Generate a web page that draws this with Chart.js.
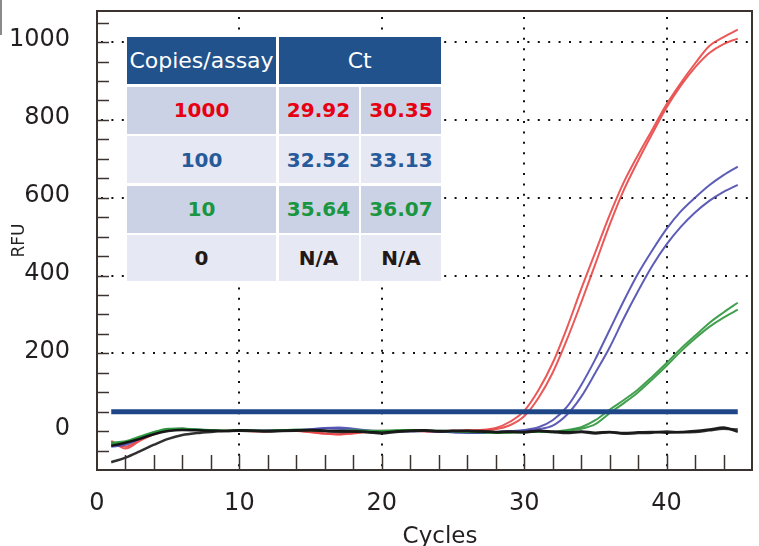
<!DOCTYPE html>
<html>
<head>
<meta charset="utf-8">
<script src="https://cdn.jsdelivr.net/npm/chart.js@4.4.0/dist/chart.umd.min.js"></script>
<style>
  body { margin: 0; background: #fff; }
  #wrap { position: relative; width: 759px; height: 546px; font-family: "DejaVu Sans", sans-serif; }
  #myChart { position: absolute; left: 0; top: 0; }
  .edge { position: absolute; left: 0; top: 0; width: 2px; height: 35px; background: #8a8a8a; }
  .xtitle { position: absolute; left: 440px; top: 522px; transform: translateX(-50%);
            font-size: 23px; line-height: 26px; color: #231f20; }
  .ctTable { position: absolute; left: 127px; top: 37px; display: grid;
             grid-template-columns: 149px 80px 80px;
             grid-template-rows: 47px 47px 47px 47px 46px;
             gap: 2.5px 2.5px; background: #fff; }
  .ctTable div { display: flex; align-items: center; justify-content: center;
                 font-size: 20px; font-weight: bold; }
  .ctTable .head { background: #21528b; color: #fff; font-weight: normal; font-size: 22px; }
  .ctTable .span2 { grid-column: span 2; }
  .ctTable .dark { background: #cbd2e5; }
  .ctTable .light { background: #e6e9f3; }
</style>
</head>
<body>
<div id="wrap">
  <canvas id="myChart" width="759" height="546"></canvas>
  <div class="edge"></div>
  <div class="xtitle">Cycles</div>
  <div class="ctTable"></div>
</div>
<script>
const $ = (element) => document.querySelector(element);

// ---- data ----
const cycles = [1, 2, 3, 4, 5, 6, 7, 8, 9, 10, 11, 12, 13, 14, 15, 16, 17, 18, 19, 20, 21, 22, 23,
  24, 25, 26, 27, 28, 29, 30, 31, 32, 33, 34, 35, 36, 37, 38, 39, 40, 41, 42, 43, 44, 45];

const red1 = [-25, -45, -25, -8, 3, 5, 3, 1, 0, 2, 0, -1, 1, 0, -2, -6, -8, -5, -1, 1, 0, 2, 0,
  -2, 0, 2, 3, 8, 24, 52, 105, 175, 265, 365, 460, 555, 640, 710, 775, 840, 895, 945, 990, 1013, 1032];
const red2 = [-30, -40, -22, -6, 4, 6, 3, 2, 1, 1, -1, 0, 2, 1, -3, -7, -9, -6, -2, 0, 1, 1, -1,
  -1, 1, 1, 2, 5, 15, 38, 85, 150, 235, 330, 430, 530, 620, 695, 765, 832, 888, 935, 972, 995, 1009];
const blue1 = [-35, -30, -18, -4, 5, 6, 4, 2, 0, 1, 1, 2, 3, 2, 4, 8, 9, 6, 2, 0, -1, 0, 1,
  -1, -3, -4, -5, -2, 0, 3, 10, 28, 62, 118, 185, 260, 335, 405, 465, 520, 565, 600, 632, 658, 680];
const blue2 = [-40, -35, -20, -5, 4, 5, 3, 1, 0, 0, 1, 1, 2, 3, 5, 7, 6, 3, 1, 0, 0, -1, 0,
  -2, -3, -5, -4, -2, -1, 1, 5, 14, 42, 88, 150, 215, 290, 360, 425, 480, 525, 562, 592, 615, 633];
const green1 = [-30, -26, -14, -2, 6, 7, 4, 2, 1, 3, 2, 0, 2, 4, 3, 1, 0, 2, 1, 0, 1, 3, 2,
  1, 0, -1, -2, -4, -3, -2, -1, -2, 3, 10, 28, 55, 80, 107, 140, 175, 212, 245, 278, 305, 330];
const green2 = [-33, -28, -16, -3, 5, 6, 4, 3, 1, 2, 1, 1, 3, 3, 2, 0, 1, 1, 0, 1, 2, 2, 1,
  0, -1, -2, -3, -5, -4, -3, -2, -3, 1, 6, 18, 46, 72, 100, 133, 168, 205, 238, 268, 292, 312];
const black1 = [-80, -68, -52, -35, -20, -10, -5, -2, 0, 1, 0, -1, 0, 1, 2, 0, -2, -1, -3, -6, -2, 0, 1,
  -1, 0, 1, 0, -2, -1, -3, 0, -2, -5, -2, -6, -3, -7, -5, -4, -1, -3, -2, 2, 6, 4];
const black2 = [-38, -30, -20, -8, 0, 3, 2, 1, 0, 2, 1, 0, 1, 2, 3, 1, 0, -1, -2, -4, -1, 1, 2,
  0, 1, 0, -1, -3, -2, -2, 1, -1, -3, -1, -4, -2, -5, -3, -2, -4, -2, 0, 4, 9, -2];

const threshold = 50;

const copies = ["1000", "100", "10", "0"];
const ctRep1 = ["29.92", "32.52", "35.64", "N/A"];
const ctRep2 = ["30.35", "33.13", "36.07", "N/A"];
const rowColors = ["#e60012", "#265a9b", "#1a9641", "#231815"];

const xTicks = [0, 10, 20, 30, 40];
const yTicks = [0, 200, 400, 600, 800, 1000];

// ---- table on top of the plot ----
const table = $(".ctTable");
let html = '<div class="head">Copies/assay</div><div class="head span2">Ct</div>';
copies.forEach((c, i) => {
  const bg = i % 2 === 0 ? "dark" : "light";
  const st = `style="color:${rowColors[i]}"`;
  html += `<div class="${bg}" ${st}>${c}</div>`;
  html += `<div class="${bg}" ${st}>${ctRep1[i]}</div>`;
  html += `<div class="${bg}" ${st}>${ctRep2[i]}</div>`;
});
table.innerHTML = html;

// ---- chart ----
const toPoints = (arr) => cycles.map((c, i) => ({ x: c, y: arr[i] }));
const curve = (arr, color, width) => ({
  data: toPoints(arr),
  borderColor: color,
  borderWidth: width || 2,
  pointRadius: 0,
  cubicInterpolationMode: "monotone",
});

const datasets = [
  {
    data: [{ x: cycles[0], y: threshold }, { x: cycles[cycles.length - 1], y: threshold }],
    borderColor: "#1f4788",
    borderWidth: 5,
    pointRadius: 0,
  },
  curve(black1, "rgba(25,25,25,0.9)", 2.5),
  curve(black2, "rgba(10,10,10,0.9)", 2.5),
  curve(green1, "rgba(45,150,60,0.9)"),
  curve(green2, "rgba(45,150,60,0.9)"),
  curve(blue1, "rgba(75,75,175,0.9)"),
  curve(blue2, "rgba(75,75,175,0.9)"),
  curve(red1, "rgba(232,70,70,0.9)"),
  curve(red2, "rgba(232,70,70,0.9)"),
];

// dotted grid, inner ticks and the frame
const framePlugin = {
  id: "frame",
  beforeDatasetsDraw(chart) {
    const { ctx, chartArea: a, scales } = chart;
    ctx.save();
    ctx.strokeStyle = "#111";
    ctx.lineWidth = 2;
    ctx.setLineDash([2, 8.4]);
    xTicks.slice(1).forEach((v) => {
      const x = Math.round(scales.x.getPixelForValue(v));
      ctx.beginPath();
      ctx.moveTo(x, a.top + 6);
      ctx.lineTo(x, a.bottom);
      ctx.stroke();
    });
    yTicks.slice(1).forEach((v) => {
      const y = Math.round(scales.y.getPixelForValue(v));
      ctx.beginPath();
      ctx.moveTo(a.left + 4, y);
      ctx.lineTo(a.right, y);
      ctx.stroke();
    });
    ctx.restore();
  },
  afterDatasetsDraw(chart) {
    const { ctx, chartArea: a, scales } = chart;
    ctx.save();
    ctx.strokeStyle = "#3a3330";
    ctx.lineWidth = 1.5;
    for (let v = 2; v <= 44; v += 2) {
      const x = Math.round(scales.x.getPixelForValue(v)) + 0.5;
      ctx.beginPath();
      ctx.moveTo(x, a.bottom);
      ctx.lineTo(x, a.bottom - 15);
      ctx.stroke();
    }
    for (let v = -50; v <= 1050; v += 50) {
      const y = Math.round(scales.y.getPixelForValue(v)) + 0.5;
      ctx.beginPath();
      ctx.moveTo(a.left, y);
      ctx.lineTo(a.left + 12, y);
      ctx.stroke();
    }
    ctx.lineWidth = 2;
    ctx.strokeRect(a.left, a.top, a.right - a.left, a.bottom - a.top);
    ctx.restore();
  },
};

const tickFont = { family: "DejaVu Sans", size: 24 };
const chartElement = document.getElementById("myChart");
const myChart = new Chart(chartElement, {
  type: "line",
  data: { datasets },
  options: {
    responsive: false,
    animation: false,
    layout: { padding: { top: 11, right: 7, left: 0, bottom: 0 } },
    plugins: { legend: { display: false }, tooltip: { enabled: false } },
    scales: {
      x: {
        type: "linear",
        min: 0,
        max: 46,
        grid: { display: false },
        border: { display: false },
        ticks: {
          font: tickFont, color: "#231f20", padding: 11, maxRotation: 0,
          callback: (v) => String(v),
        },
        afterBuildTicks: (s) => { s.ticks = xTicks.map((v) => ({ value: v })); },
        afterFit: (s) => { s.height = 76; s.paddingLeft = 0; s.paddingRight = 0; },
      },
      y: {
        min: -100,
        max: 1080,
        grid: { display: false },
        border: { display: false },
        ticks: {
          font: tickFont, color: "#231f20", padding: 19, labelOffset: -2,
          callback: (v) => String(v),
        },
        afterBuildTicks: (s) => { s.ticks = yTicks.map((v) => ({ value: v })); },
        afterFit: (s) => { s.width = 97; s.paddingTop = 0; s.paddingBottom = 0; },
        title: {
          display: true,
          text: "RFU",
          font: { family: "DejaVu Sans", size: 17 },
          color: "#231f20",
          padding: { top: 9, bottom: 0 },
        },
      },
    },
  },
  plugins: [framePlugin],
});
</script>
</body>
</html>
